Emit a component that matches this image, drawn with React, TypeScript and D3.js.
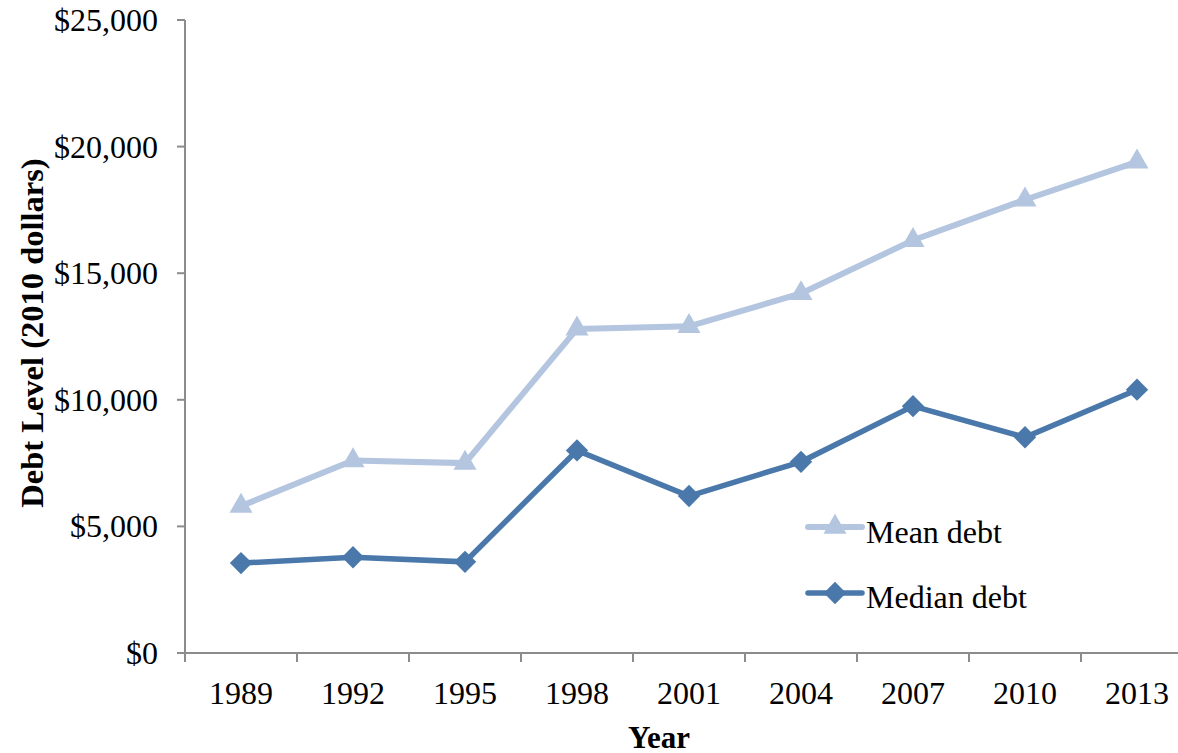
import React from "react";
import * as d3 from "d3";

const years = ["1989", "1992", "1995", "1998", "2001", "2004", "2007", "2010", "2013"];
const meanDebt = [5800, 7600, 7500, 12800, 12900, 14200, 16300, 17900, 19400];
const medianDebt = [3550, 3780, 3600, 8000, 6200, 7550, 9750, 8520, 10400];
const yTicks = [0, 5000, 10000, 15000, 20000, 25000];

const W = 1178;
const H = 753;
const font = "'Liberation Serif', 'Times New Roman', serif";
const axisColor = "#8c8c8c";
const meanColor = "#b4c5e0";
const medianColor = "#4a78aa";

export default function App() {
  // the plot runs past the right edge of the picture, as in the original
  const x = d3.scaleBand().domain(years).range([185, 1193]);
  const y = d3.scaleLinear().domain([0, 25000]).range([653, 20]);
  const cx = (d: string) => (x(d) as number) + x.bandwidth() / 2;

  const line = d3.line<[string, number]>()
    .x(d => cx(d[0]))
    .y(d => y(d[1]));

  const meanPts = years.map((yr, i) => [yr, meanDebt[i]] as [string, number]);
  const medianPts = years.map((yr, i) => [yr, medianDebt[i]] as [string, number]);

  const tri = d3.symbol().type(d3.symbolTriangle).size(230)() as string;
  const diamond = d3.symbol().type(d3.symbolSquare).size(250)() as string;
  const fmt = (v: number) => "$" + d3.format(",")(v);

  return (
    <svg width={W} height={H} style={{ position: "absolute", left: 0, top: 0 }}>
      <rect width={W} height={H} fill="white" />

      {/* y axis */}
      <line x1={185} x2={185} y1={y(25000)} y2={y(0)} stroke={axisColor} strokeWidth={2} />
      {yTicks.map(t => (
        <g key={t}>
          <line x1={177} x2={185} y1={y(t)} y2={y(t)} stroke={axisColor} strokeWidth={2} />
          <text x={158} y={y(t) + 11} textAnchor="end" fontFamily={font} fontSize={32}>
            {fmt(t)}
          </text>
        </g>
      ))}

      {/* x axis */}
      <line x1={177} x2={W} y1={y(0)} y2={y(0)} stroke={axisColor} strokeWidth={2} />
      {[...years.map(yr => x(yr) as number), 1193].map((px, i) => (
        <line key={i} x1={px} x2={px} y1={y(0)} y2={y(0) + 9} stroke={axisColor} strokeWidth={2} />
      ))}
      {years.map(yr => (
        <text key={yr} x={cx(yr)} y={704} textAnchor="middle" fontFamily={font} fontSize={32}>
          {yr}
        </text>
      ))}

      {/* axis titles */}
      <text x={659} y={748} textAnchor="middle" fontFamily={font} fontSize={31} fontWeight="bold">
        Year
      </text>
      <text
        transform={`translate(43,333) rotate(-90)`}
        textAnchor="middle"
        fontFamily={font}
        fontSize={32.5}
        fontWeight="bold"
      >
        Debt Level (2010 dollars)
      </text>

      {/* series */}
      <path d={line(meanPts) as string} fill="none" stroke={meanColor} strokeWidth={6} />
      {meanPts.map(d => (
        <path key={d[0]} d={tri} transform={`translate(${cx(d[0])},${y(d[1])})`} fill={meanColor} />
      ))}
      <path d={line(medianPts) as string} fill="none" stroke={medianColor} strokeWidth={5.5} />
      {medianPts.map(d => (
        <path
          key={d[0]}
          d={diamond}
          transform={`translate(${cx(d[0])},${y(d[1])}) rotate(45)`}
          fill={medianColor}
        />
      ))}

      {/* legend */}
      <line x1={808} x2={862} y1={527} y2={527} stroke={meanColor} strokeWidth={6} strokeLinecap="round" />
      <path d={tri} transform="translate(835,527)" fill={meanColor} />
      <text x={866} y={543} fontFamily={font} fontSize={32}>Mean debt</text>
      <line x1={808} x2={862} y1={593} y2={593} stroke={medianColor} strokeWidth={5.5} strokeLinecap="round" />
      <path d={diamond} transform="translate(835,593) rotate(45)" fill={medianColor} />
      <text x={866} y={608} fontFamily={font} fontSize={32}>Median debt</text>
    </svg>
  );
}
